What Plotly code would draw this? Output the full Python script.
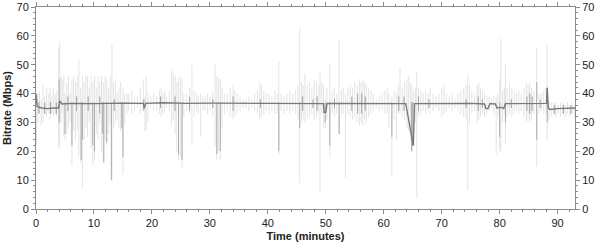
import plotly.graph_objects as go

# Light gray bitrate excursions: time (min), low (Mbps), high (Mbps)
light_t = [0.1, 0.3, 0.6, 0.9, 1.2, 1.5, 1.8, 2.1, 2.4, 2.7, 3.0, 3.3, 3.6, 3.9, 4.1, 4.3, 4.5,
           4.8, 5.0, 5.3, 5.6, 5.9, 6.2, 6.5, 6.8, 7.1, 7.4, 7.7, 8.0, 8.3, 8.6, 8.9, 9.2, 9.5, 9.8,
           10.1, 10.4, 10.7, 11.0, 11.3, 11.6, 11.9, 12.2, 12.5, 12.8, 13.1, 13.4, 13.7, 14.0, 14.3,
           14.6, 15.0, 15.3, 15.7, 16.0, 16.5, 17.0, 17.5, 18.0, 18.5, 18.8, 19.0, 19.3, 19.8, 20.3,
           20.8, 21.3, 21.6, 21.9, 22.2, 22.5, 23.0, 23.4, 23.7, 24.0, 24.3, 24.6, 24.9, 25.2, 25.5,
           26.0, 26.5, 26.9, 27.3, 27.7, 28.0, 28.4, 28.8, 29.2, 29.6, 30.0, 30.5, 30.9, 31.2, 31.5,
           31.8, 32.1, 32.5, 33.0, 33.5, 34.0, 34.3, 34.7, 35.2, 35.7, 36.2, 36.7, 37.2, 37.7, 38.2,
           38.6, 38.9, 39.3, 39.7, 40.2, 40.7, 41.2, 41.6, 41.9, 42.3, 42.8, 43.3, 43.8, 44.3, 44.8,
           45.2, 45.5, 45.8, 46.1, 46.4, 46.8, 47.2, 47.6, 48.0, 48.4, 48.8, 49.0, 49.3, 49.6, 49.9,
           50.2, 50.7, 51.1, 51.5, 51.9, 52.3, 52.7, 53.0, 53.4, 53.8, 54.2, 54.6, 55.0, 55.4, 55.8,
           56.1, 56.4, 56.7, 57.0, 57.4, 57.8, 58.2, 58.7, 59.2, 59.7, 60.2, 60.6, 60.9, 61.4, 61.8,
           62.2, 62.5, 62.8, 63.2, 63.6, 64.0, 64.3, 64.6, 64.9, 65.2, 65.5, 65.7, 66.0, 66.4, 66.8,
           67.2, 67.6, 68.0, 68.5, 69.0, 69.5, 70.0, 70.4, 70.8, 71.3, 71.8, 72.3, 72.8, 73.3, 73.8,
           74.2, 74.5, 74.8, 75.2, 75.7, 76.1, 76.4, 76.7, 77.0, 77.4, 77.8, 78.2, 78.6, 79.0, 79.4,
           79.7, 80.0, 80.2, 80.5, 80.8, 81.0, 81.3, 81.7, 82.1, 82.5, 82.9, 83.3, 83.7, 84.2, 84.6,
           84.9, 85.2, 85.5, 85.9, 86.4, 86.8, 87.2, 87.6, 88.0, 88.2, 88.5, 88.9, 89.3, 89.7, 90.1,
           90.5, 90.9, 91.3, 91.7, 92.1, 92.5, 92.9]
light_lo = [22, 30, 33, 29, 30, 33, 32, 33, 31, 33, 32, 33, 32, 21, 22, 30, 33,
            25, 24, 26, 28, 30, 15, 27, 24, 27, 18, 16, 7, 24, 28, 25, 30, 21, 15,
            17, 26, 24, 30, 20, 17, 24, 22, 26, 30, 9.5, 28, 30, 31, 28,
            27, 12, 29, 33, 34, 33, 34, 35, 33, 34, 27, 27, 30, 35, 34,
            34, 33, 32, 33, 34, 35, 34, 29, 31, 26, 20, 17, 18, 14, 32,
            34, 33, 22, 32, 34, 33, 25, 34, 34, 33, 34, 32, 22, 17, 20,
            17, 28, 33, 34, 32, 31, 32, 33, 34, 35, 35, 34, 35, 34, 33,
            31, 32, 33, 34, 33, 34, 33, 33, 19, 34, 33, 34, 33, 34, 33,
            31, 9, 30, 31, 30, 31, 32, 33, 31, 32, 33, 5.5, 33, 28, 28,
            31, 18, 33, 32, 33, 26, 33, 33, 11, 33, 32, 31, 32, 30, 29,
            30, 29, 31, 30, 32, 33, 34, 35, 34, 34, 33, 33, 28, 11, 31,
            24, 33, 33, 32, 31, 28, 27, 24, 20, 22, 30, 4, 32, 33, 34,
            33, 34, 33, 34, 35, 34, 32, 33, 34, 35, 34, 35, 34, 33, 32,
            31, 6.5, 30, 33, 34, 30, 31, 32, 33, 32, 33, 34, 35, 33, 19,
            32, 20, 20, 30, 33, 22.5, 32, 33, 32, 33, 34, 33, 34, 32, 30,
            31, 30, 31, 33, 14.6, 33, 34, 33, 33, 24, 31, 32, 33, 32, 33,
            32, 33, 32, 33, 32, 33, 32]
light_hi = [36, 40, 41, 38, 43, 39, 42, 40, 42, 39, 42, 40, 41, 56, 57.5, 46, 45,
            46, 40, 44, 46, 40, 45, 46, 44, 46, 52, 42, 46, 44, 46, 46, 42, 46, 44,
            46, 42, 46, 44, 46, 44, 46, 45, 42, 46, 57, 44, 45, 40, 42,
            44, 42, 40, 40, 40, 41, 39, 39, 42, 45, 39, 46, 40, 39, 40,
            39, 41, 42, 40, 41, 39, 41, 48, 47, 46, 44, 45, 46, 45, 40,
            40, 42, 50, 41, 40, 39, 40, 39, 39, 40, 39, 41, 50, 46, 45,
            45, 42, 40, 40, 42, 43, 41, 40, 39, 38, 38, 39, 38, 40, 41,
            44, 43, 41, 40, 40, 39, 41, 40, 51, 40, 39, 40, 41, 40, 41,
            43, 62.5, 44, 43, 47, 43, 44, 42, 45, 44, 43, 48, 44, 43, 38,
            42, 50.5, 41, 42, 40, 58.5, 41, 42, 40, 42, 43, 42, 44, 43, 45,
            44, 45, 44, 43, 42, 41, 40, 38, 39, 40, 41, 42, 40, 39, 41,
            40, 43, 49, 42, 44, 45, 46, 44, 43, 41, 42, 47.5, 42, 41, 40,
            41, 40, 42, 40, 39, 40, 42, 43, 40, 39, 40, 38, 40, 41, 42,
            43, 46.5, 43, 41, 40, 43, 44, 42, 41, 40, 39, 39, 38, 39, 39,
            40, 45, 59, 41, 42, 50.5, 42, 43, 42, 41, 40, 41, 40, 42, 44,
            43, 44, 42, 41, 56, 40, 40, 41, 42, 57, 37, 37, 37, 37, 36,
            37, 37, 36, 37, 36, 37, 36]

# Darker excursions (overlapping samples)
dark_t = [4.0, 5.0, 6.2, 7.8, 8.0, 9.8, 10.1, 11.5, 11.7, 12.2, 13.0, 14.8, 15.0, 24.6, 25.2,
          31.2, 31.8, 41.9, 45.5, 49.9, 50.7, 52.3, 61.4, 64.8, 65.0, 80.0, 81.0, 86.4, 88.2]
dark_lo = [30, 26, 22, 17, 24, 22, 20, 26, 16, 23, 10, 28, 18, 19, 17,
           19, 20, 20, 28, 30, 22, 26, 25, 20, 22, 25, 30, 24, 30]
dark_hi = [45, 37, 37, 37, 37, 37, 37, 37, 37, 37, 37, 37, 37, 37, 37,
           37, 37, 37, 37, 37, 37, 37, 37, 37, 37, 37, 37, 44, 42]

# Busy-zone jitter around the average
core_t = [0.5, 1.5, 2.5, 3.5, 5.5, 7.0, 9.0, 11.0, 13.5, 18.6, 21.5, 24.0, 26.5, 30.5, 34.0,
          38.7, 46.0, 47.8, 48.5, 51.5, 54.5, 55.5, 56.2, 56.8, 62.6, 63.5, 66.0, 67.8, 74.2,
          76.3, 77.0, 82.0, 84.7, 85.2, 85.6, 87.0, 89.5, 91.0, 92.3]
core_lo = [33, 33, 33, 33, 34, 34, 34, 33, 34, 34, 35, 34, 34, 35, 34,
           35, 34, 35, 34, 35, 34, 33, 33, 34, 34, 34, 34, 35, 35,
           34, 35, 35, 34, 33, 34, 35, 33, 33, 33]
core_hi = [37, 37, 37, 37, 39, 39, 39, 39, 38, 38, 39, 39, 39, 38, 39,
           38, 39, 38, 39, 38, 39, 40, 40, 39, 39, 39, 39, 38, 38,
           39, 38, 38, 39, 40, 39, 38, 36, 36, 36]

# Running average bitrate
mean_t = [0.0, 0.2, 1.0, 2.0, 3.0, 3.9, 4.1, 4.5, 6, 10, 15, 18.5, 18.7, 18.9, 22, 26, 30, 35,
          40, 45, 49.6, 49.7, 50.0, 50.2, 55, 60, 63.8, 64.2, 64.6, 64.9, 65.1, 65.3, 70, 75,
          77.4, 77.6, 78.0, 78.3, 79.3, 79.5, 80.3, 80.7, 81.0, 85, 88.1, 88.2, 88.4, 88.6, 90, 93]
mean_v = [40, 35.5, 35.0, 34.8, 35.0, 35.0, 37.5, 36.4, 36.6, 36.5, 36.7, 36.6, 35.0, 36.6,
          36.8, 36.6, 36.7, 36.6, 36.7, 36.6, 36.5, 33.5, 33.5, 36.6, 36.6, 36.7, 36.5, 32,
          28, 24, 22, 36.5, 36.6, 36.6, 36.4, 34.8, 34.8, 36.5, 36.4, 35, 35.2, 34.8, 36.5,
          36.6, 36.6, 42, 35, 34.5, 34.8, 35]

x_ticks = [0, 10, 20, 30, 40, 50, 60, 70, 80, 90]
y_ticks = [0, 10, 20, 30, 40, 50, 60, 70]


def segs(ts, lo, hi):
    xs, ys = [], []
    for t, a, b in zip(ts, lo, hi):
        xs += [t, t, None]
        ys += [a, b, None]
    return xs, ys


fig = go.Figure()
lx, ly = segs(light_t, light_lo, light_hi)
fig.add_trace(go.Scatter(x=lx, y=ly, mode="lines", line=dict(color="#dcdcdc", width=0.8),
                         hoverinfo="skip", showlegend=False))
dx, dy = segs(dark_t, dark_lo, dark_hi)
fig.add_trace(go.Scatter(x=dx, y=dy, mode="lines", line=dict(color="#ababab", width=1),
                         hoverinfo="skip", showlegend=False))
cx, cy = segs(core_t, core_lo, core_hi)
fig.add_trace(go.Scatter(x=cx, y=cy, mode="lines", line=dict(color="#a0a0a0", width=1),
                         hoverinfo="skip", showlegend=False))
fig.add_trace(go.Scatter(x=mean_t, y=mean_v, mode="lines", line=dict(color="#787878", width=1.4),
                         showlegend=False))
fig.add_trace(go.Scatter(x=[0], y=[0], yaxis="y2", mode="markers", marker=dict(opacity=0),
                         hoverinfo="skip", showlegend=False))

tfont = dict(family="Liberation Sans, Arial", size=11, color="#222")
axis_common = dict(showline=True, linecolor="#8c8c8c", linewidth=1, ticks="outside",
                   tickcolor="#8c8c8c", ticklen=4, showgrid=False, zeroline=False,
                   automargin=False, tickfont=tfont)
minor = dict(dtick=2, tick0=0, ticks="outside", ticklen=2, tickcolor="#8c8c8c")

fig.update_layout(
    width=600, height=245,
    margin=dict(l=36, r=25, t=7, b=36),
    paper_bgcolor="white", plot_bgcolor="white",
    xaxis=dict(range=[0, 93], tickvals=x_ticks, mirror="ticks", minor=minor,
               title=dict(text="<b>Time (minutes)</b>", standoff=4, font=tfont),
               **axis_common),
    yaxis=dict(range=[0, 70], tickvals=y_ticks, minor=minor,
               title=dict(text="<b>Bitrate (Mbps)</b>", standoff=2, font=tfont),
               **axis_common),
    yaxis2=dict(range=[0, 70], tickvals=y_ticks, overlaying="y", side="right", minor=minor,
                **axis_common),
)

fig.write_html("out.html")
